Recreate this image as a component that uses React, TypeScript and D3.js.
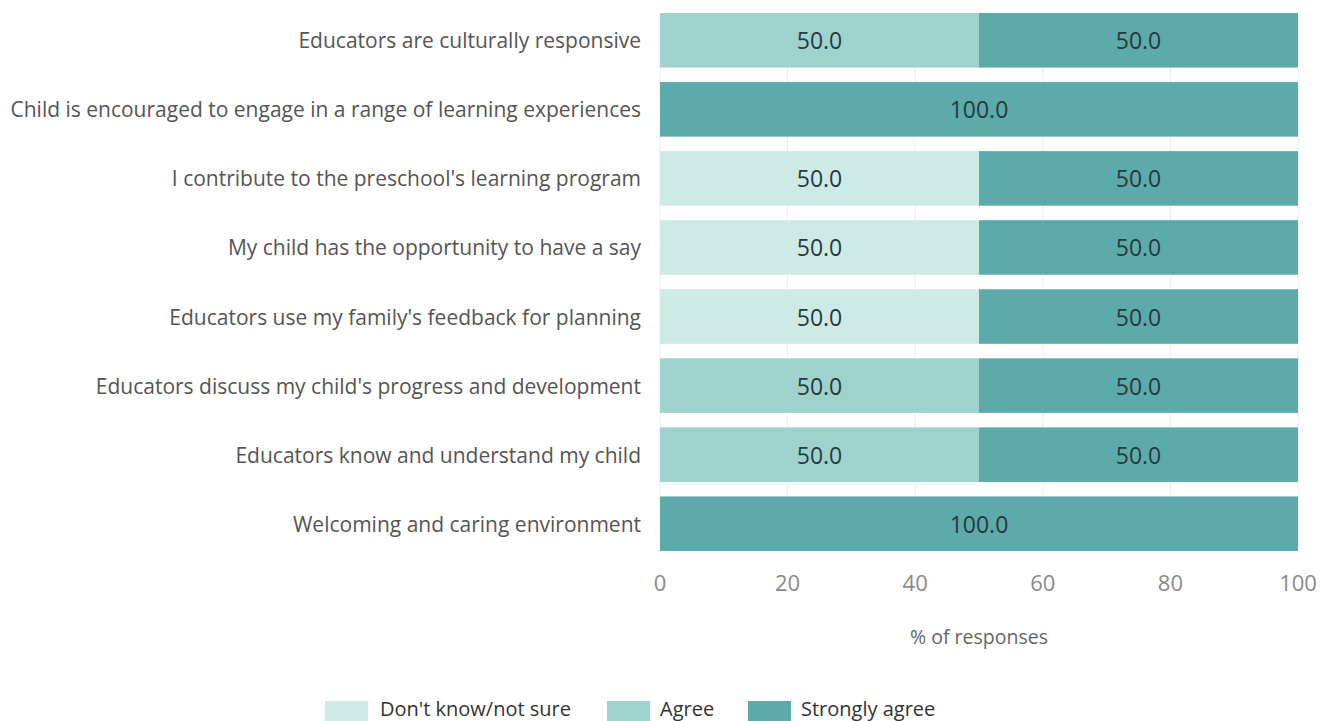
import React from "react";
import * as d3 from "d3";

const categories = [
  "Educators are culturally responsive",
  "Child is encouraged to engage in a range of learning experiences",
  "I contribute to the preschool's learning program",
  "My child has the opportunity to have a say",
  "Educators use my family's feedback for planning",
  "Educators discuss my child's progress and development",
  "Educators know and understand my child",
  "Welcoming and caring environment",
];
const seriesNames = ["Don't know/not sure", "Agree", "Strongly agree"];
const dontKnow = [0, 0, 50, 50, 50, 0, 0, 0];
const agree = [50, 0, 0, 0, 0, 50, 50, 0];
const stronglyAgree = [50, 100, 50, 50, 50, 50, 50, 100];
const xTicks = [0, 20, 40, 60, 80, 100];
const colors = ["#cdeae5", "#9dd3cc", "#5caaa9"];

const W = 1321;
const H = 721;
const FONT = "'Open Sans', Lato, sans-serif";

export default function App() {
  const x = d3.scaleLinear().domain([0, 100]).range([660, 1298]);
  const y = d3.scaleBand<string>().domain(categories).range([13, 551]).paddingInner(0.21).paddingOuter(0);
  const rows = categories.map((c, i) => ({ c, vals: [dontKnow[i], agree[i], stronglyAgree[i]] }));
  const stack = d3.stack<any>().keys(["0", "1", "2"]).value((d: any, k: string) => d.vals[+k]);
  const stacked = stack(rows);

  const legendItems = [
    { x: 325, tx: 380 },
    { x: 607, tx: 660 },
    { x: 748, tx: 801 },
  ];

  return (
    <svg width={W} height={H} style={{ position: "absolute", left: 0, top: 0, background: "#fff" }}>
      {xTicks.map((t) => (
        <line key={"g" + t} x1={x(t)} x2={x(t)} y1={13} y2={551} stroke="#e2f0ed" strokeWidth={1} />
      ))}
      {stacked.map((s, si) =>
        s.map((d, i) => {
          const w = x(d[1]) - x(d[0]);
          if (w <= 0) return null;
          const yy = y(categories[i])!;
          return (
            <g key={si + "-" + i}>
              <rect x={x(d[0])} y={yy} width={w} height={y.bandwidth()} fill={colors[si]} />
              <text
                x={(x(d[0]) + x(d[1])) / 2}
                y={yy + y.bandwidth() / 2}
                textAnchor="middle"
                dominantBaseline="central"
                fontFamily={FONT}
                fontSize={23}
                fill="#263a40"
              >
                {(d[1] - d[0]).toFixed(1)}
              </text>
            </g>
          );
        })
      )}
      {categories.map((c) => (
        <text
          key={c}
          x={641}
          y={y(c)! + y.bandwidth() / 2}
          textAnchor="end"
          dominantBaseline="central"
          fontFamily={FONT}
          fontSize={21}
          fill="#555"
        >
          {c}
        </text>
      ))}
      {xTicks.map((t) => (
        <text
          key={"t" + t}
          x={x(t)}
          y={582}
          textAnchor="middle"
          dominantBaseline="central"
          fontFamily={FONT}
          fontSize={22}
          fill="#8a8a8a"
        >
          {t}
        </text>
      ))}
      <text x={x(50)} y={636} textAnchor="middle" dominantBaseline="central" fontFamily={FONT} fontSize={19.5} fill="#666">
        % of responses
      </text>
      {seriesNames.map((n, i) => (
        <g key={n}>
          <rect x={legendItems[i].x} y={701} width={43} height={20} fill={colors[i]} />
          <text x={legendItems[i].tx} y={708} dominantBaseline="central" fontFamily={FONT} fontSize={20} fill="#333">
            {n}
          </text>
        </g>
      ))}
    </svg>
  );
}
